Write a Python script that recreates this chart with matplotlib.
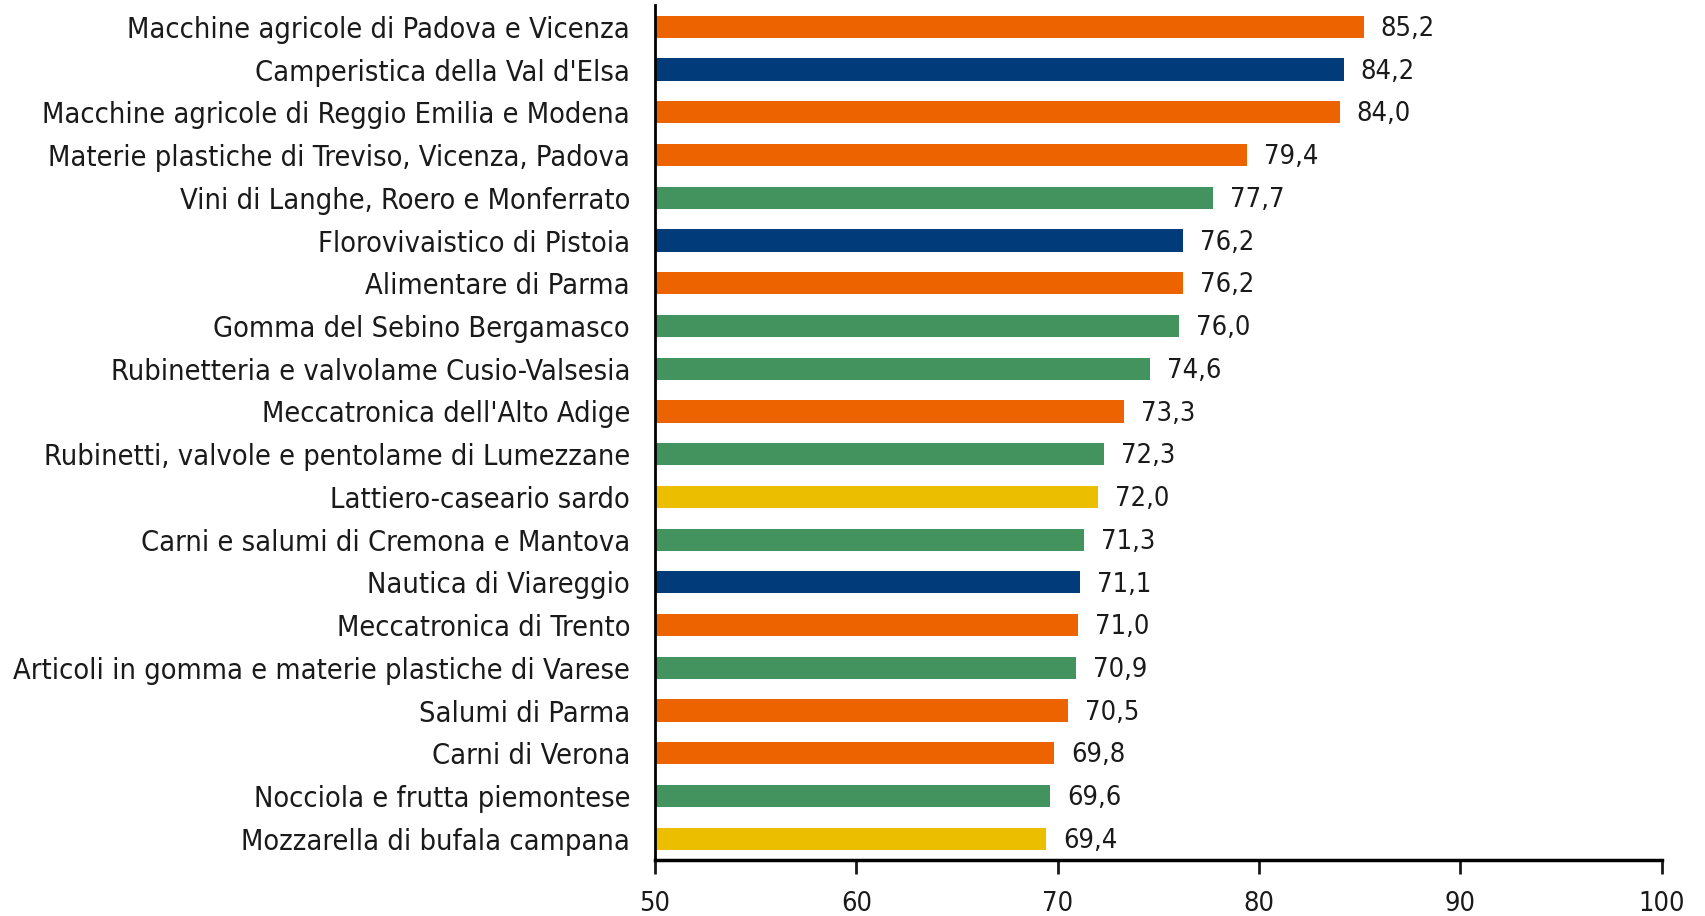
import matplotlib
matplotlib.use("Agg")
import matplotlib.pyplot as plt

categories = [
    "Macchine agricole di Padova e Vicenza",
    "Camperistica della Val d'Elsa",
    "Macchine agricole di Reggio Emilia e Modena",
    "Materie plastiche di Treviso, Vicenza, Padova",
    "Vini di Langhe, Roero e Monferrato",
    "Florovivaistico di Pistoia",
    "Alimentare di Parma",
    "Gomma del Sebino Bergamasco",
    "Rubinetteria e valvolame Cusio-Valsesia",
    "Meccatronica dell'Alto Adige",
    "Rubinetti, valvole e pentolame di Lumezzane",
    "Lattiero-caseario sardo",
    "Carni e salumi di Cremona e Mantova",
    "Nautica di Viareggio",
    "Meccatronica di Trento",
    "Articoli in gomma e materie plastiche di Varese",
    "Salumi di Parma",
    "Carni di Verona",
    "Nocciola e frutta piemontese",
    "Mozzarella di bufala campana",
]
values = [85.2, 84.2, 84.0, 79.4, 77.7, 76.2, 76.2, 76.0, 74.6, 73.3,
          72.3, 72.0, 71.3, 71.1, 71.0, 70.9, 70.5, 69.8, 69.6, 69.4]
groups = ["o", "b", "o", "o", "g", "b", "o", "g", "g", "o",
          "g", "y", "g", "b", "o", "g", "o", "o", "g", "y"]
group_colors = {"o": "#EC6300", "b": "#023B7A", "g": "#42935E", "y": "#ECBE00"}
xticks = [50, 60, 70, 80, 90, 100]

plt.rcParams["font.family"] = ["DejaVu Sans"]
plt.rcParams["font.stretch"] = "condensed"

fig = plt.figure(figsize=(17.06, 9.16), dpi=100)
ax = fig.add_axes([0.384, 0.061, 0.590, 0.933])

y = list(range(len(categories)))
colors = [group_colors[g] for g in groups]
ax.barh(y, [v - 50 for v in values], left=50, height=0.52, color=colors)
ax.set_ylim(len(categories) - 0.5, -0.5)
ax.set_xlim(50, 100)
ax.set_yticks(y)
ax.set_yticklabels(categories, fontsize=20.8)
ax.set_xticks(xticks)
ax.set_xticklabels([str(t) for t in xticks], fontsize=19.5)

for yi, v in zip(y, values):
    ax.text(v + 0.85, yi + 0.05, f"{v:.1f}".replace(".", ","), va="center", ha="left",
            fontsize=19.5, color="#1a1a1a")

for s in ["top", "right"]:
    ax.spines[s].set_visible(False)
ax.spines["left"].set_linewidth(2)
ax.spines["bottom"].set_linewidth(2.5)
ax.tick_params(axis="y", length=0, pad=18, colors="#1a1a1a")
ax.tick_params(axis="x", length=10, width=2, pad=12, colors="#1a1a1a")

fig.savefig("out.png", dpi=100)
